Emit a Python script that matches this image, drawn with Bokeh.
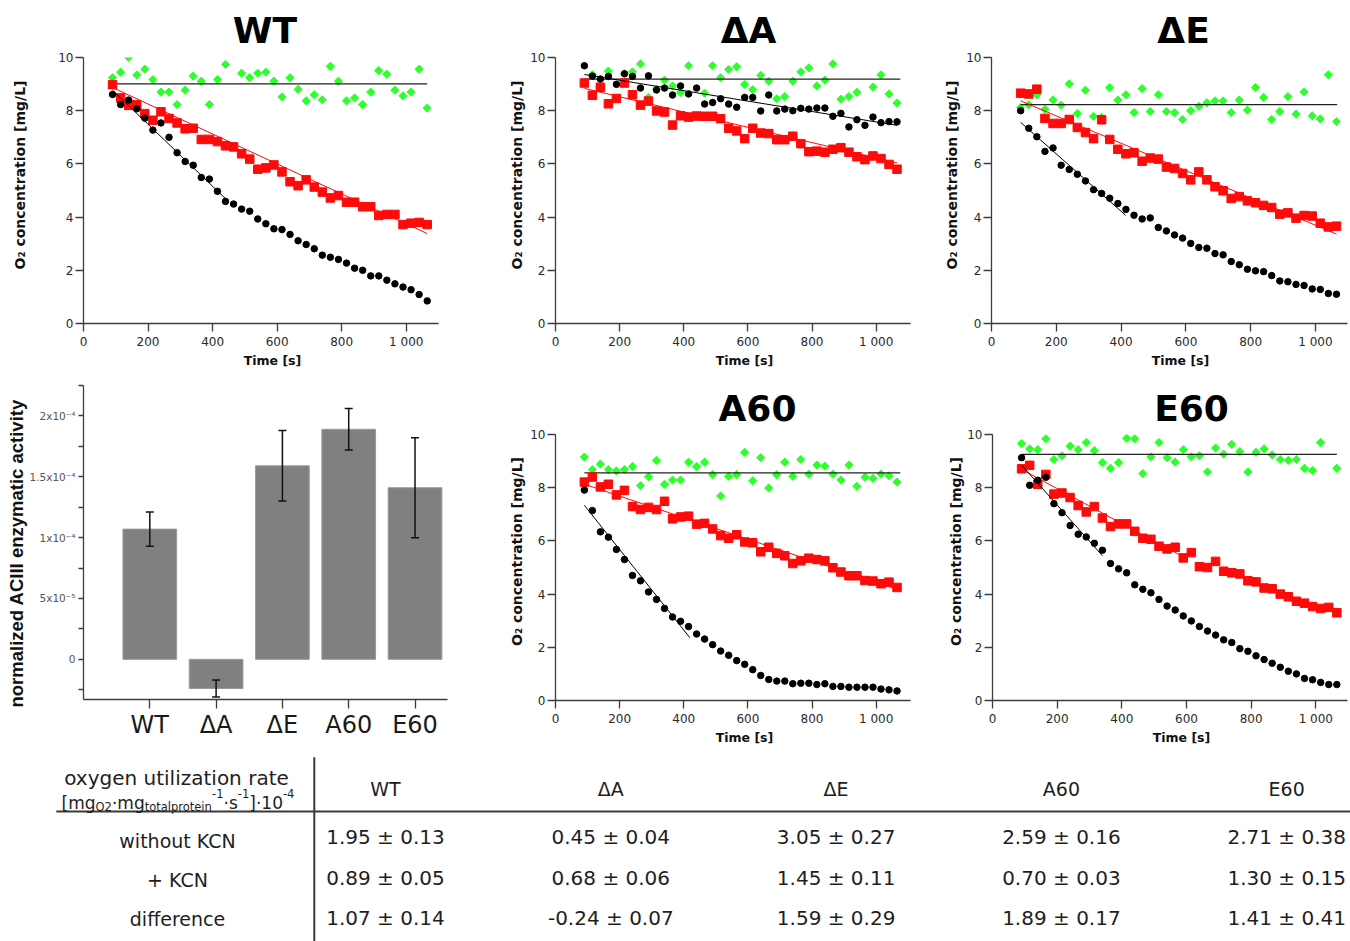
import numpy as np
from bokeh.plotting import figure
from bokeh.models import Range1d, FixedTicker, Title, Whisker, ColumnDataSource, TeeHead
from bokeh.layouts import row, column
from bokeh.embed import file_html
from bokeh.resources import INLINE
from bokeh.core.properties import value

NaN = float("nan")

# ---------------- data ----------------
time_s = [90, 115, 140, 165, 190, 215, 240, 265, 290, 315, 340, 365, 390, 415, 440, 465, 490, 515, 540, 565,
          590, 615, 640, 665, 690, 715, 740, 765, 790, 815, 840, 865, 890, 915, 940, 965, 990, 1015, 1040, 1065]

wt_green = [9.24, 9.45, 10.0, 9.34, 9.56, 9.17, 8.70, 8.70, 8.23, 8.77, 9.30, 9.11, 8.23, 9.17, 9.74, 10.15, 9.41, 9.24, 9.41, 9.45,
            9.11, 8.52, 9.24, 8.80, 8.37, 8.60, 8.41, 9.67, 9.11, 8.37, 8.48, 8.23, 8.70, 9.51, 9.37, 8.77, 8.56, 8.70, 9.56, 8.10]
wt_red = [8.98, 8.48, 8.20, 8.22, 7.89, 7.64, 7.96, 7.71, 7.54, 7.32, 7.34, 6.92, 6.92, 6.84, 6.68, 6.64, 6.38, 6.18, 5.80, 5.85,
          5.96, 5.70, 5.33, 5.18, 5.40, 5.13, 4.94, 4.72, 4.81, 4.56, 4.56, 4.39, 4.39, 4.06, 4.10, 4.10, 3.72, 3.77, 3.80, 3.72]
wt_black = [8.61, 8.23, 8.40, 8.07, 7.72, 7.27, 7.54, 7.00, 6.42, 6.09, 5.95, 5.49, 5.43, 4.97, 4.59, 4.49, 4.30, 4.22, 3.93, 3.75,
            3.56, 3.53, 3.35, 3.11, 2.97, 2.81, 2.57, 2.49, 2.41, 2.27, 2.08, 2.00, 1.79, 1.79, 1.63, 1.49, 1.37, 1.27, 1.09, 0.85]
wt_mean_line = ([90, 1065], [9.01, 9.01])
wt_red_fit = ([90, 1065], [8.87, 3.38])
wt_black_fit = ([90, 442], [8.77, 4.67])

da_green = [NaN, 9.35, 8.84, 9.49, NaN, 9.39, 9.46, 9.76, 8.50, 8.81, 9.15, 8.93, 8.69, 9.69, NaN, 8.66, 9.69, 9.24, 9.55, 9.65,
            8.99, 8.79, 9.33, 9.11, 8.45, 8.53, 9.11, 9.46, 9.61, 8.93, 9.15, 9.76, 8.43, 8.53, 8.69, NaN, 8.89, 9.35, 8.63, 8.29]
da_red = [9.04, 8.58, 8.88, 8.26, 8.46, 9.04, 8.60, 8.21, 8.36, 7.99, 7.95, 7.46, 7.81, 7.76, 7.80, 7.79, 7.79, 7.70, 7.34, 7.24,
          6.95, 7.34, 7.16, 7.14, 6.91, 6.91, 7.04, 6.76, 6.46, 6.48, 6.44, 6.55, 6.61, 6.44, 6.27, 6.16, 6.30, 6.20, 5.98, 5.80]
da_black = [9.69, 9.30, 9.19, 9.29, 8.99, 9.39, 9.29, 8.85, 9.31, 8.78, 8.85, 8.59, 8.93, 8.63, 8.85, 8.25, 8.31, 8.45, 8.25, 8.13,
            8.50, 8.50, 7.99, 8.59, 7.99, 8.06, 8.00, 8.09, 8.06, 8.10, 8.10, 7.79, 7.90, 7.39, 7.66, 7.45, 7.76, 7.55, 7.59, 7.58]
da_mean_line = ([90, 1075], [9.19, 9.19])
da_red_fit = ([90, 1065], [8.84, 6.04])
da_black_fit = ([90, 1065], [9.36, 7.45])

de_green = [8.12, 8.22, 8.60, 8.05, 8.41, 8.21, 9.01, 7.89, 8.77, 7.79, 7.74, 8.87, 8.40, 8.60, 7.93, 8.83, 7.97, 8.60, 7.97, 7.92,
            7.67, 8.00, 8.17, 8.30, 8.37, 8.37, 7.93, 8.40, 8.02, 8.87, 8.50, 7.67, 7.97, 8.53, 7.87, 8.71, 7.81, 7.69, 9.35, 7.59]
de_red = [8.66, 8.63, 8.81, 7.71, 7.52, 7.52, 7.67, 7.37, 7.18, 6.95, 7.66, 6.92, 6.55, 6.38, 6.42, 6.10, 6.22, 6.18, 5.88, 5.83,
          5.64, 5.40, 5.70, 5.40, 5.14, 4.99, 4.70, 4.77, 4.61, 4.54, 4.44, 4.36, 4.11, 4.16, 3.96, 4.06, 4.04, 3.77, 3.63, 3.66]
de_black = [8.00, 7.34, 7.02, 6.47, 6.60, 5.95, 5.79, 5.61, 5.36, 5.03, 4.89, 4.71, 4.51, 4.29, 4.07, 3.93, 3.97, 3.61, 3.48, 3.33,
            3.21, 3.01, 2.86, 2.83, 2.63, 2.58, 2.33, 2.21, 2.04, 1.98, 1.95, 1.80, 1.60, 1.57, 1.47, 1.43, 1.30, 1.28, 1.13, 1.10]
de_mean_line = ([90, 1067], [8.23, 8.23])
de_red_fit = ([90, 1065], [8.37, 3.36])
de_black_fit = ([90, 414], [7.56, 4.07])

a60_green = [9.15, 8.68, 8.89, 8.68, 8.63, 8.68, 8.79, 8.08, 8.41, 9.03, 8.13, 8.29, 8.29, 8.96, 8.79, 8.96, 8.49, 7.69, 8.43, 8.49,
             9.33, 8.26, 9.13, 7.99, 8.49, 8.96, 8.43, 9.06, 8.51, 8.85, 8.81, 8.51, 8.29, 8.85, 8.05, 8.39, 8.35, 8.51, 8.45, 8.21]
a60_red = [8.21, 8.40, 8.03, 8.13, 7.73, 7.90, 7.29, 7.18, 7.26, 7.18, 7.49, 6.83, 6.90, 6.93, 6.63, 6.66, 6.45, 6.20, 6.10, 6.23,
           5.96, 5.93, 5.59, 5.76, 5.53, 5.44, 5.15, 5.25, 5.35, 5.30, 5.25, 4.99, 4.83, 4.69, 4.69, 4.51, 4.49, 4.39, 4.45, 4.25]
a60_black = [7.91, 7.14, 6.34, 6.14, 5.68, 5.30, 4.70, 4.50, 4.08, 3.80, 3.46, 3.14, 2.98, 2.78, 2.50, 2.31, 2.10, 1.86, 1.70, 1.50,
             1.36, 1.16, 0.94, 0.79, 0.73, 0.73, 0.63, 0.65, 0.65, 0.60, 0.63, 0.53, 0.53, 0.50, 0.50, 0.50, 0.50, 0.43, 0.40, 0.36]
a60_mean_line = ([90, 1075], [8.56, 8.56])
a60_red_fit = ([90, 1065], [8.13, 4.18])
a60_black_fit = ([90, 419], [7.34, 2.36])

e60_green = [9.66, 9.46, 9.43, 9.84, 9.06, 9.20, 9.56, 9.43, 9.70, 9.39, 8.94, 8.73, 8.94, 9.86, 9.84, 8.53, 9.16, 9.70, 9.13, 8.96,
             9.43, 9.16, 9.20, 8.59, 9.49, 9.26, 9.63, 9.36, 8.59, 9.33, 9.46, 9.23, 9.06, 9.03, 9.06, 8.73, 8.65, 9.70, NaN, 8.73]
e60_red = [8.71, 8.84, 8.13, 8.50, 7.76, 7.80, 7.63, 7.33, 7.09, 7.29, 6.86, 6.54, 6.64, 6.64, 6.36, 6.10, 6.06, 5.80, 5.70, 5.76,
           5.36, 5.56, 5.03, 5.00, 5.23, 4.86, 4.80, 4.76, 4.50, 4.46, 4.23, 4.20, 4.00, 3.90, 3.73, 3.66, 3.53, 3.46, 3.50, 3.30]
e60_black = [9.13, 8.09, 8.28, 8.39, 7.40, 7.06, 6.58, 6.25, 6.15, 5.91, 5.65, 5.15, 4.95, 4.80, 4.35, 4.18, 4.05, 3.80, 3.55, 3.40,
             3.18, 2.99, 2.78, 2.61, 2.46, 2.28, 2.18, 1.95, 1.85, 1.68, 1.54, 1.40, 1.25, 1.10, 1.00, 0.83, 0.78, 0.68, 0.60, 0.60]
e60_mean_line = ([90, 1065], [9.25, 9.25])
e60_red_fit = ([90, 593], [8.69, 5.38])
e60_black_fit = ([90, 340], [8.85, 5.44])

strains = ["WT", "ΔA", "ΔE", "A60", "E60"]
rate_without = [1.95, 0.45, 3.05, 2.59, 2.71]
err_without = [0.13, 0.04, 0.27, 0.16, 0.38]
rate_kcn = [0.89, 0.68, 1.45, 0.70, 1.30]
err_kcn = [0.05, 0.06, 0.11, 0.03, 0.15]
rate_diff = [1.07, -0.24, 1.59, 1.89, 1.41]
err_diff = [0.14, 0.07, 0.29, 0.17, 0.41]
row_labels = ["without KCN", "+ KCN", "difference"]

x_ticks = [0, 200, 400, 600, 800, 1000]
x_tick_labels = ["0", "200", "400", "600", "800", "1 000"]
y_ticks = [0, 2, 4, 6, 8, 10]
bar_ticks = [0, 5e-5, 1e-4, 1.5e-4, 2e-4]
bar_tick_labels = ["0", "5x10⁻⁵", "1x10⁻⁴", "1.5x10⁻⁴", "2x10⁻⁴"]
bar_minor_ticks = [-2.5e-5, 2.5e-5, 7.5e-5, 1.25e-4, 1.75e-4, 2.25e-4]

# ---------------- style ----------------
FONT = "DejaVu Sans"
GREEN = "#2cff2c"
RED = "#ff0a0a"
AX = "#3c3c3c"

# approximate DejaVu Sans Bold advance widths (em) used to place left-aligned titles
BOLD_EM = {'W': 1.021, 'T': 0.683, 'A': 0.774, 'E': 0.683, 'Δ': 0.774, '6': 0.696, '0': 0.696,
           'i': 0.343, 'm': 1.042, 'e': 0.678, ' ': 0.348, '[': 0.457, ']': 0.457, 's': 0.595}


def bold_width(s, size):
    return sum(BOLD_EM.get(c, 0.68) for c in s) * size


def style_axis(ax, size="12px", color="#2a2a2a", tick_out=8, standoff=3):
    ax.axis_line_color = AX
    ax.axis_line_width = 1.3
    ax.major_tick_line_color = AX
    ax.major_tick_line_width = 1.3
    ax.major_tick_in = 0
    ax.major_tick_out = tick_out
    ax.minor_tick_line_color = None
    ax.major_label_text_font = FONT
    ax.major_label_text_font_size = size
    ax.major_label_text_color = color
    ax.major_label_standoff = standoff


def o2_panel(title, green, red, black, mean_line, red_fit, black_fit,
             width, mbl, mbr, height, mbt, mbb, xmax, title_cx, ylab_standoff, title_standoff, ylab_gap=0):
    fh = height - mbt - mbb
    p = figure(title=None, width=width, height=height,
               x_range=Range1d(0, xmax), y_range=Range1d(0, 10),
               output_backend="svg", toolbar_location=None,
               min_border_left=mbl, min_border_right=mbr,
               min_border_top=mbt, min_border_bottom=mbb)
    p.grid.visible = False
    p.outline_line_color = None
    p.xaxis.ticker = FixedTicker(ticks=x_ticks)
    p.xaxis.major_label_overrides = dict(zip(x_ticks, x_tick_labels))
    p.yaxis.ticker = FixedTicker(ticks=y_ticks)
    style_axis(p.xaxis[0])
    style_axis(p.yaxis[0], standoff=2)

    p.scatter(time_s, np.array(green, dtype=float), marker="square", angle=np.pi / 4, size=5.8,
              fill_color=GREEN, line_color=GREEN)
    p.line(mean_line[0], mean_line[1], line_color="#222222", line_width=1.2)
    p.scatter(time_s, red, marker="square", size=8.5, fill_color=RED, line_color=RED)
    p.line(red_fit[0], red_fit[1], line_color=RED, line_width=1)
    p.scatter(time_s, black, marker="circle", size=6.5, fill_color="black", line_color="black")
    p.line(black_fit[0], black_fit[1], line_color="black", line_width=1)

    p.add_layout(Title(text=title, align="left", offset=title_cx - bold_width(title, 36) / 2,
                       standoff=title_standoff, text_font=FONT, text_font_size="36px",
                       text_font_style="bold", text_color="black"), "above")
    xl = "Time [s]"
    p.add_layout(Title(text=xl, align="left", offset=189 - bold_width(xl, 12.5) / 2,
                       vertical_align="top", standoff=2, text_font=FONT, text_font_size="12.5px",
                       text_font_style="bold", text_color="#111111"), "below")
    if ylab_gap:
        # empty spacer between the tick labels and the axis title
        p.add_layout(Title(text=" ", text_font_size="1px", standoff=ylab_gap), "left")
    p.add_layout(Title(text="O₂ concentration [mg/L]", align="left", offset=fh / 2 + 15 - 94,
                       standoff=ylab_standoff, text_font=FONT, text_font_size="14px",
                       text_font_style="bold", text_color="#111111"), "left")
    return p


p_wt = o2_panel("WT", wt_green, wt_red, wt_black, wt_mean_line, wt_red_fit, wt_black_fit,
                463, 83, 25, 378, 57, 55, 1100, 180, 2, 13, ylab_gap=24)
p_da = o2_panel("ΔA", da_green, da_red, da_black, da_mean_line, da_red_fit, da_black_fit,
                455, 92, 8, 378, 57, 55, 1107, 193, 6, 13)
p_de = o2_panel("ΔE", de_green, de_red, de_black, de_mean_line, de_red_fit, de_black_fit,
                432, 73, 3, 378, 57, 55, 1099, 192, 7, 13)
p_a60 = o2_panel("A60", a60_green, a60_red, a60_black, a60_mean_line, a60_red_fit, a60_black_fit,
                 455, 92, 8, 378, 56, 55, 1107, 202, 6, 12)
p_e60 = o2_panel("E60", e60_green, e60_red, e60_black, e60_mean_line, e60_red_fit, e60_black_fit,
                 432, 74, 3, 378, 55, 56, 1098, 199, 2, 11)

# ---------------- bar chart ----------------
positions = list(range(1, len(strains) + 1))
bar_top = [v * 1e-4 for v in rate_diff]
bar_up = [(v + e) * 1e-4 for v, e in zip(rate_diff, err_diff)]
bar_lo = [(v - e) * 1e-4 for v, e in zip(rate_diff, err_diff)]
bsrc = ColumnDataSource(dict(x=positions, top=bar_top, upper=bar_up, lower=bar_lo))

pb = figure(title=None, width=463, height=378,
            x_range=Range1d(0, 5.49), y_range=Range1d(-3.3e-5, 2.25e-4),
            output_backend="svg", toolbar_location=None,
            min_border_left=83, min_border_right=16, min_border_top=7, min_border_bottom=57)
pb.grid.visible = False
pb.outline_line_color = None
pb.vbar(x="x", top="top", bottom=0, width=0.81, fill_color="#808080", line_color="#9a9a9a",
        line_width=1, source=bsrc)
pb.add_layout(Whisker(source=bsrc, base="x", upper="upper", lower="lower", level="annotation",
                      line_color="#111111", line_width=1.5,
                      upper_head=TeeHead(size=8, line_color="#111111", line_width=1.5),
                      lower_head=TeeHead(size=8, line_color="#111111", line_width=1.5)))
pb.xaxis.ticker = FixedTicker(ticks=positions)
pb.xaxis.major_label_overrides = dict(zip(positions, strains))
style_axis(pb.xaxis[0], size="24px", color="#1a1a1a", tick_out=9, standoff=2)
pb.yaxis.ticker = FixedTicker(ticks=bar_ticks, minor_ticks=bar_minor_ticks)
pb.yaxis.major_label_overrides = dict(zip(bar_ticks, bar_tick_labels))
style_axis(pb.yaxis[0], size="10.5px", color="#555555", tick_out=5, standoff=3)
pb.yaxis.minor_tick_line_color = AX
pb.yaxis.minor_tick_line_width = 1.3
pb.yaxis.minor_tick_in = 0
pb.yaxis.minor_tick_out = 5
pb.add_layout(Title(text="normalized ACIII enzymatic activity", align="left", offset=-8,
                    standoff=0, text_font="Liberation Sans", text_font_size="18.5px",
                    text_font_style="bold", text_color="#111111"), "left")

# ---------------- table ----------------
pt = figure(title=None, width=1350, height=185,
            x_range=Range1d(0, 1350), y_range=Range1d(941, 756),
            x_axis_type=None, y_axis_type=None,
            output_backend="svg", toolbar_location=None, min_border=0)
pt.grid.visible = False
pt.outline_line_color = None
pt.segment(x0=[55.8, 313.8], y0=[811, 756.7], x1=[1350, 313.8], y1=[811, 941],
           line_color="#3a3a3a", line_width=2)

col_x = [385 + i * 225.3 for i in range(len(strains))]
TXT = "#1e1e1e"
pt.text(x=col_x, y=[788] * len(strains), text=strains, text_font=value(FONT),
        text_font_size="19px", text_align="center", text_baseline="middle", text_color=TXT)
pt.text(x=[177] * 3, y=[840, 879, 918], text=row_labels, text_font=value(FONT),
        text_font_size="19px", text_align="center", text_baseline="middle", text_color=TXT)
val_x, val_y, val_t = [], [], []
for ry, rates, errs in zip([836, 877, 917], [rate_without, rate_kcn, rate_diff], [err_without, err_kcn, err_diff]):
    for cx, r, e in zip(col_x, rates, errs):
        val_x.append(cx)
        val_y.append(ry)
        val_t.append(f"{r:.2f} ± {e:.2f}")
pt.text(x=val_x, y=val_y, text=val_t, text_font=value(FONT),
        text_font_size="20px", text_align="center", text_baseline="middle", text_color=TXT)
pt.text(x=[176], y=[777], text=["oxygen utilization rate"], text_font=value(FONT),
        text_font_size="20px", text_align="center", text_baseline="middle", text_color=TXT)

# unit line: [mg_O2·mg_totalprotein^-1·s^-1]·10^-4
em = {'[': 0.390, ']': 0.390, 'm': 0.974, 'g': 0.635, 'O': 0.787, '2': 0.636, '·': 0.318, 't': 0.392,
      'o': 0.612, 'a': 0.613, 'l': 0.278, 'p': 0.635, 'r': 0.411, 'e': 0.615, 'i': 0.278, 'n': 0.634,
      '-': 0.361, '1': 0.636, 's': 0.521, '0': 0.636, '4': 0.636}
MAIN, SMALL = 17, 11.5
pieces = [("[mg", MAIN, 802), ("O2", SMALL, 806), ("·mg", MAIN, 802), ("totalprotein", SMALL, 806),
          ("-1", SMALL, 793), ("·s", MAIN, 802), ("-1", SMALL, 793), ("]·10", MAIN, 802), ("-4", SMALL, 793)]
widths = [sum(em[c] for c in s) * fs for s, fs, _ in pieces]
cur = 177.5 - sum(widths) / 2
for (s, fs, by), w in zip(pieces, widths):
    pt.text(x=[cur], y=[by], text=[s], text_font=value(FONT), text_font_size=f"{fs}px",
            text_align="left", text_baseline="alphabetic", text_color=TXT)
    cur += w

# the bar chart sits in its own branch so its frame is not aligned with the two O2 panels
layout = column(row(p_wt, p_da, p_de), row(pb, row(p_a60, p_e60)), pt)
open("out.html", "w").write(file_html(layout, INLINE))
